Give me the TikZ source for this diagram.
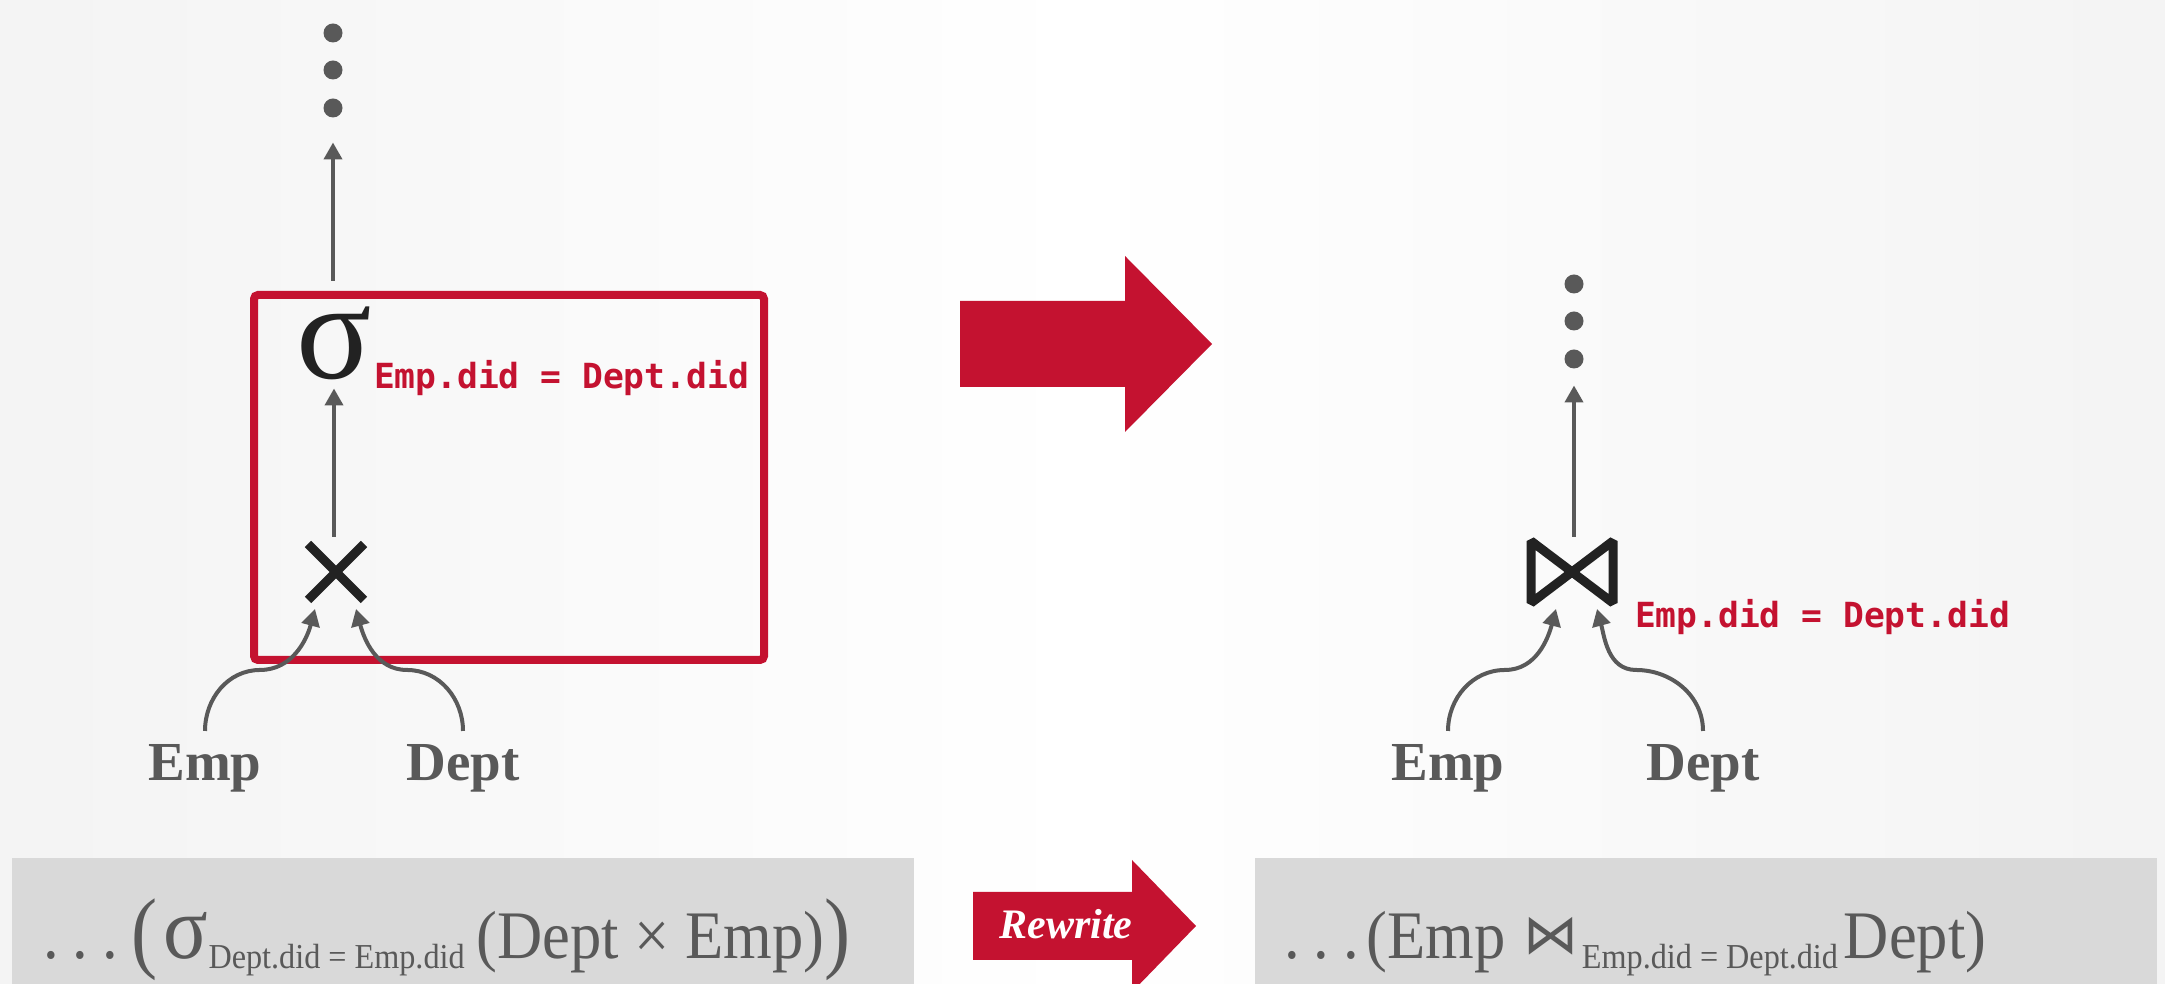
\documentclass[tikz,border=0pt]{standalone}
\usepackage{fontspec}
\setmainfont{Liberation Serif}
\newfontfamily\predfont{DejaVu Sans Mono}
\newfontfamily\opsymfont{DejaVu Sans}
\newfontfamily\exprfont[FakeStretch=0.92]{Liberation Serif}
\usetikzlibrary{arrows.meta}

\definecolor{cmured}{HTML}{C41230}
\definecolor{ink}{HTML}{595959}
\definecolor{boxgray}{HTML}{D9D9D9}
\definecolor{opblack}{HTML}{222222}

\begin{document}
\begin{tikzpicture}[x=1pt, y=1pt]
\tikzset{ >={Triangle[width=18pt,length=17pt]}, inner sep=0pt, outer sep=0pt,
  flow/.style={->, draw=ink, line width=4pt},
  dot/.style={circle, fill=ink, minimum size=19pt},
  rel/.style={font=\fontsize{55}{55}\selectfont\bfseries, text=ink, outer sep=14pt},
  pred/.style={font=\fontsize{34.6}{34.6}\selectfont\predfont\bfseries, text=cmured},
  op/.style={line width=9pt, draw=opblack},
  expr/.style={font=\exprfont\fontsize{68}{68}\selectfont, text=ink},
}

%\draw [lightgray, dashed] (0,0) grid [step=100] (2165,984);
\useasboundingbox (0,0) rectangle (2165,984);
\shade [left color=gray!9, right color=gray!9, middle color=white] (0,0) rectangle (2165,984);

\fill [boxgray] (12,0) rectangle (914,126);
\fill [boxgray] (1255,0) rectangle (2157,126);

\fill [cmured] (960,597) -- (1125,597) -- (1125,552) -- (1212,640) -- (1125,728) -- (1125,683) -- (960,683) -- cycle;
\fill [cmured] (973,24) -- (1132,24) -- (1132,-8) -- (1196,58) -- (1132,124) -- (1132,92) -- (973,92) -- cycle;
\node [font=\fontsize{42}{42}\selectfont\bfseries\itshape, text=white] (rewrite) at (1066,60) {Rewrite};

% before
\node [dot] (l1) at (333,951) {};
\node [dot] (l2) at (333,914) {};
\node [dot] (l3) at (333,876) {};

\node [draw=cmured, line width=8pt, rounded corners=4pt, minimum width=510pt, minimum height=365pt] (scope) at (509,506.5) {};

\node [font=\fontsize{140}{140}\selectfont, text=opblack] (sel) at (334,641) {σ};
\node [pred, anchor=base west] (selpred) at (374,595) {Emp.did = Dept.did};
\node [minimum width=56pt, minimum height=56pt] (cross) at (336,412) {};
\draw [op] (cross.north west) -- (cross.south east) (cross.north east) -- (cross.south west);

\node [rel, anchor=base] (emp1) at (205,203) {Emp};
\node [rel, anchor=base] (dept1) at (463,203) {Dept};
\coordinate (crossL) at (315,375);
\coordinate (crossR) at (356,375);

\draw [flow, shorten <=14pt, shorten >=25pt] (scope.north -| l3) -- (l3);
\draw [flow, shorten <=7pt, shorten >=9pt] (cross.north -| sel) -- (sel.south);
\draw [flow] (emp1.north) to[out=90, in=180] ++(55,61) to[out=0, in=-105] (crossL);
\draw [flow] (dept1.north) to[out=90, in=0] ++(-56,61) to[out=180, in=-75] (crossR);

% after
\node [dot] (r1) at (1574,700) {};
\node [dot] (r2) at (1574,663) {};
\node [dot] (r3) at (1574,625) {};

\node [minimum width=82pt, minimum height=62pt] (join) at (1572,412) {};
\draw [op, line join=bevel] (join.north west) -- (join.south east) -- (join.north east) -- (join.south west) -- cycle;
\node [pred, anchor=base west] (joinpred) at (1635,356) {Emp.did = Dept.did};

\node [rel, anchor=base] (emp2) at (1448,203) {Emp};
\node [rel, anchor=base] (dept2) at (1703,203) {Dept};
\coordinate (joinL) at (1556,375);
\coordinate (joinR) at (1597,375);

\draw [flow, shorten <=4pt, shorten >=17pt] (join.north -| r3) -- (r3);
\draw [flow] (emp2.north) to[out=90, in=180] ++(57,61) to[out=0, in=-105] (joinL);
\draw [flow] (dept2.north) to[out=90, in=0] ++(-67,61) to[out=180, in=-75] (joinR);

% expressions
\node [expr, anchor=base west] (oldexpr) at (43,25) {.\hspace{14pt}.\hspace{14pt}.\hspace{14pt}\raisebox{-3pt}{\scalebox{1.25}[1.33]{(}}\hspace{6pt}{\fontsize{90}{90}\selectfont σ}\raisebox{-10pt}{\fontsize{35}{35}\selectfont Dept.did = Emp.did}\hspace{12pt}(Dept × Emp)\raisebox{-3pt}{\scalebox{1.25}[1.33]{)}}};
\node [expr, anchor=base west] (newexpr) at (1284,25) {.\hspace{14pt}.\hspace{14pt}.\hspace{8pt}(Emp\hspace{18pt}\raisebox{5pt}{\opsymfont\fontsize{55}{55}\selectfont ⋈}\hspace{3pt}\raisebox{-10pt}{\fontsize{35}{35}\selectfont Emp.did = Dept.did}\hspace{6pt}Dept)};

\end{tikzpicture}
\end{document}
